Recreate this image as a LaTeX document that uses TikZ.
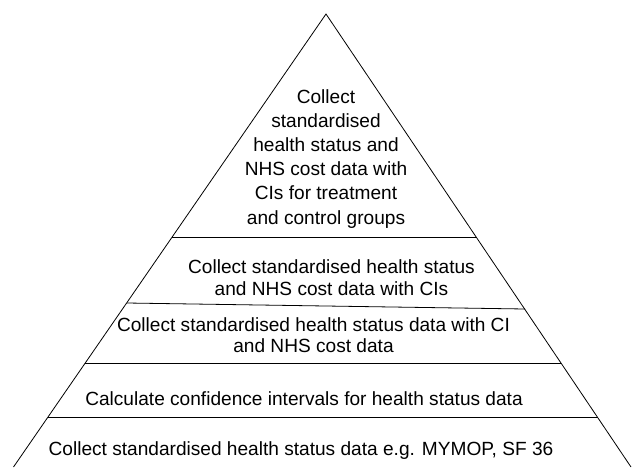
\documentclass[tikz,border=0pt]{standalone}
\usepackage{fontspec}
\setmainfont{Liberation Sans}

\begin{document}
\begin{tikzpicture}[x=1pt,y=-1pt,
  tier/.style={font=\fontsize{19.1}{21.8}\selectfont, align=center, inner sep=0pt}]

\useasboundingbox (0,0) rectangle (632,467);

% pyramid sides
\coordinate (top) at (326,14);
\coordinate (bl) at (13.5,467);
\coordinate (br) at (631,467);
\draw[line width=0.8pt] (bl) -- (top) -- (br);

% tier borders
\draw[line width=0.8pt] (172,237.7) -- (476.5,237.7);
\draw[line width=0.8pt] (127,303) -- (525,309);
\draw[line width=0.8pt] (85,363.3) -- (561,363.3);
\draw[line width=0.8pt] (48,417.7) -- (598,417.7);

% tier texts
\node[tier, anchor=north, font=\fontsize{19.1}{24.2}\selectfont] (t1) at (326,89) {Collect\\standardised\\health status and\\NHS cost data with\\CIs for treatment\\and control groups};
\node[tier, anchor=north] (t2) at (331.5,259.3) {Collect standardised health status\\and NHS cost data with CIs};
\node[tier, anchor=north] (t3) at (313.5,317) {Collect standardised health status data with CI\\and NHS cost data};
\node[tier, anchor=base] (t4) at (304,405) {Calculate confidence intervals for health status data};
\node[tier, anchor=base] (t5) at (301,455) {Collect standardised health status data e.g. MYMOP, SF 36};

\end{tikzpicture}
\end{document}
